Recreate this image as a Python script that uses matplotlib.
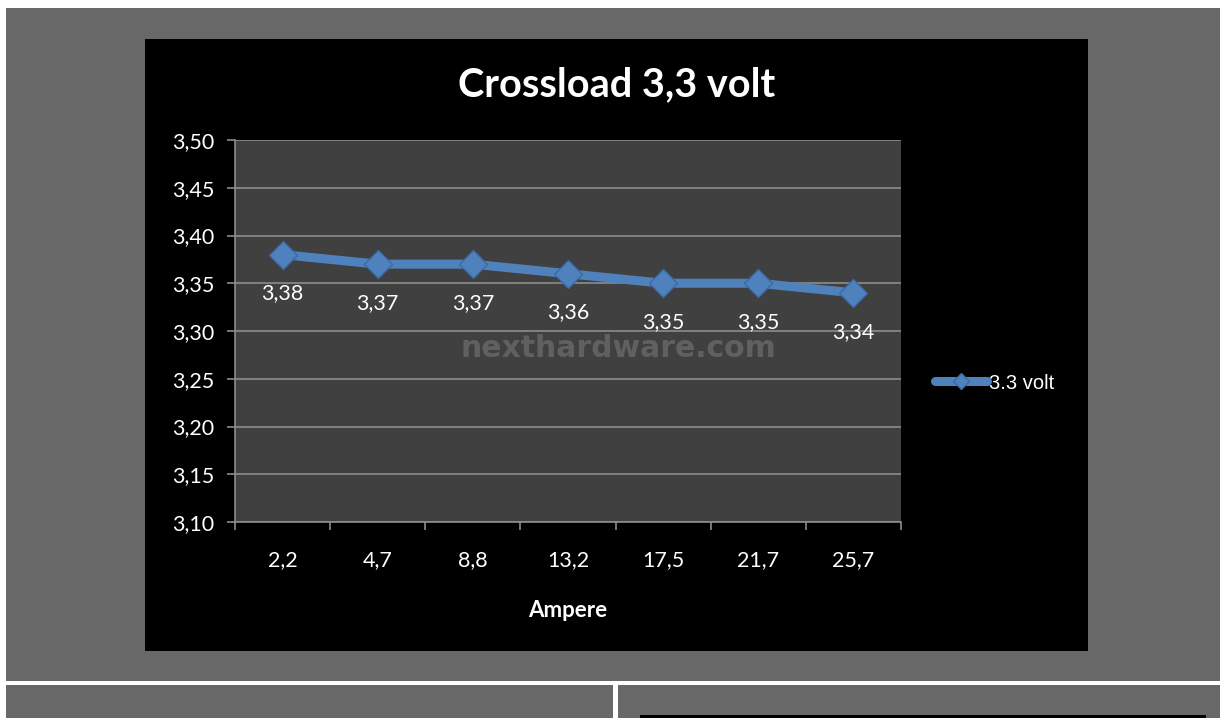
import matplotlib
matplotlib.use("Agg")
import matplotlib.pyplot as plt
from matplotlib.patches import Rectangle

categories = ["2,2", "4,7", "8,8", "13,2", "17,5", "21,7", "25,7"]
values = [3.38, 3.37, 3.37, 3.36, 3.35, 3.35, 3.34]
value_labels = ["3,38", "3,37", "3,37", "3,36", "3,35", "3,35", "3,34"]
yticks = [3.10, 3.15, 3.20, 3.25, 3.30, 3.35, 3.40, 3.45, 3.50]
ytick_labels = ["3,10", "3,15", "3,20", "3,25", "3,30", "3,35", "3,40", "3,45", "3,50"]
title = "Crossload 3,3 volt"
xlabel = "Ampere"
series_name = "3.3 volt"
watermark = "nexthardware.com"

W, H = 1224, 718
plt.rcParams['font.family'] = ['Lato', 'DejaVu Sans']
FS = 15.5

fig = plt.figure(figsize=(W / 100, H / 100), dpi=100, facecolor="white")

def rect(x0, y0, x1, y1, color):
    fig.add_artist(Rectangle((x0 / W, 1 - y1 / H), (x1 - x0) / W, (y1 - y0) / H,
                             transform=fig.transFigure, facecolor=color,
                             edgecolor="none", zorder=0))

# page background
rect(6, 8, 1220, 681, "#686868")
rect(6, 685, 613, 718, "#686868")
rect(618, 685, 1220, 718, "#686868")
rect(640, 715, 1206, 718, "#000000")
# chart area
rect(145, 39, 1088, 651, "#000000")

# plot axes
L, R, T, B = 235, 901, 140, 522
ax = fig.add_axes([L / W, 1 - B / H, (R - L) / W, (B - T) / H])
ax.set_facecolor("#404040")
ax.set_zorder(2)

x = list(range(len(categories)))
ax.plot(x, values, color="#4F81BD", lw=6.5, marker="D", markersize=14,
        markerfacecolor="#4F81BD", markeredgecolor="#3A6AA5", markeredgewidth=1,
        solid_capstyle="round", label=series_name, zorder=4)

for xi, v, lab in zip(x, values, value_labels):
    ax.annotate(lab, (xi, v), xytext=(0, -28), textcoords="offset points",
                ha="center", va="center", color="white", fontsize=FS, zorder=5)

ax.set_xlim(-0.5, len(categories) - 0.5)
ax.set_ylim(3.10, 3.50)
ax.set_yticks(yticks)
ax.set_yticklabels(ytick_labels)
ax.yaxis.grid(True, color="#8c8c8c", lw=1.2)
ax.set_axisbelow(True)

# x ticks at category boundaries, labels at centers
ax.set_xticks([i - 0.5 for i in range(len(categories) + 1)])
ax.set_xticklabels([])
ax.set_xticks(x, minor=True)
ax.set_xticklabels(categories, minor=True)
ax.tick_params(axis="x", which="major", length=6, color="#8c8c8c", width=1.2, direction="out")
ax.tick_params(axis="x", which="minor", length=0, pad=20, labelcolor="white", labelsize=FS)
ax.tick_params(axis="y", length=6, color="#8c8c8c", width=1.2, direction="out",
               labelcolor="white", labelsize=FS, pad=9)

for s in ["top", "right"]:
    ax.spines[s].set_visible(False)
for s in ["left", "bottom"]:
    ax.spines[s].set_color("#8c8c8c")
    ax.spines[s].set_linewidth(1.2)

ax.set_xlabel(xlabel, color="white", fontsize=16, fontweight="bold", labelpad=22)

ax.text(0.575, 0.455, watermark, transform=ax.transAxes, ha="center", va="center",
        fontsize=21.5, fontweight="bold", color="#606060", zorder=3,
        family=["DejaVu Sans"])

fig.text(617 / W, 1 - 85 / H, title, ha="center", va="center", color="white",
         fontsize=28.5, fontweight="bold")

leg = ax.legend(loc="center left", bbox_to_anchor=(935 / W, 1 - 383 / H),
                bbox_transform=fig.transFigure, frameon=False,
                prop={"family": ["Liberation Sans"], "size": 14.5},
                labelcolor="white", handlelength=2.6, handletextpad=0.1,
                borderpad=0, borderaxespad=0, markerscale=0.6)

fig.savefig("out.png", dpi=100, facecolor=fig.get_facecolor())
